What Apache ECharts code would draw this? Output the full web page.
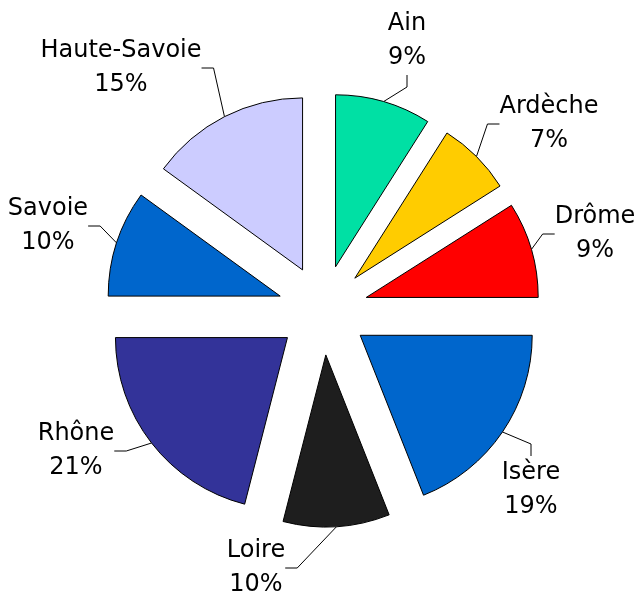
<!DOCTYPE html>
<html>
<head>
<meta charset="utf-8">
<script src="https://cdn.jsdelivr.net/npm/echarts@6/dist/echarts.min.js"></script>
<style>
  html, body { margin: 0; padding: 0; background: #fff; }
  #chart { width: 642px; height: 598px; }
</style>
</head>
<body>
<div id="chart"></div>
<script>
// départements, clockwise from the top
var categories = ["Ain", "Ardèche", "Drôme", "Isère", "Loire", "Rhône", "Savoie", "Haute-Savoie"];
var values = [9, 7, 9, 19, 10, 21, 10, 15];
var colors = ["#00e0a4", "#ffcc00", "#ff0000", "#0066cc", "#1e1e1e", "#333399", "#0066cc", "#ccccff"];

// where each label sits (centre of the text block)
var labelPos = [
  [407, 41], [549, 124], [595, 234], [531, 490],
  [256, 568], [76, 451], [48, 226], [121, 68]
];

var cx = 323, cy = 310, explode = 45;
var total = values.reduce(function (a, b) { return a + b; }, 0);

var chart = echarts.init(document.getElementById("chart"), null, { renderer: "canvas" });

// one pie per slice, each pulled out along its own middle angle
var series = [];
var acc = 0;
values.forEach(function (v, k) {
  var mid = (90 - (acc + v / 2) / total * 360) * Math.PI / 180;
  acc += v;
  var data = categories.map(function (name, i) {
    if (i === k) {
      return { name: name, value: values[i], itemStyle: { color: colors[i] } };
    }
    return {
      name: name,
      value: values[i],
      itemStyle: { color: "transparent", borderWidth: 0 },
      label: { show: false },
      labelLine: { show: false }
    };
  });
  series.push({
    type: "pie",
    center: [cx + explode * Math.cos(mid), cy - explode * Math.sin(mid)],
    radius: 172,
    startAngle: 90,
    clockwise: true,
    percentPrecision: 0,
    silent: true,
    itemStyle: { borderColor: "#000", borderWidth: 1 },
    label: {
      show: true,
      position: "outside",
      formatter: "{b}\n{d}%",
      fontFamily: "DejaVu Sans",
      fontSize: 24,
      lineHeight: 34,
      color: "#000",
      align: "center",
      overflow: "none",
      edgeDistance: 0,
      bleedMargin: 0
    },
    labelLine: {
      show: true,
      length: 15,
      length2: 12,
      lineStyle: { color: "#000", width: 1 }
    },
    labelLayout: function (params) {
      var p = labelPos[params.dataIndex];
      return { x: p[0], y: p[1], align: "center", verticalAlign: "middle" };
    },
    emphasis: { disabled: true },
    data: data
  });
});

chart.setOption({
  animation: false,
  series: series
});
</script>
</body>
</html>
